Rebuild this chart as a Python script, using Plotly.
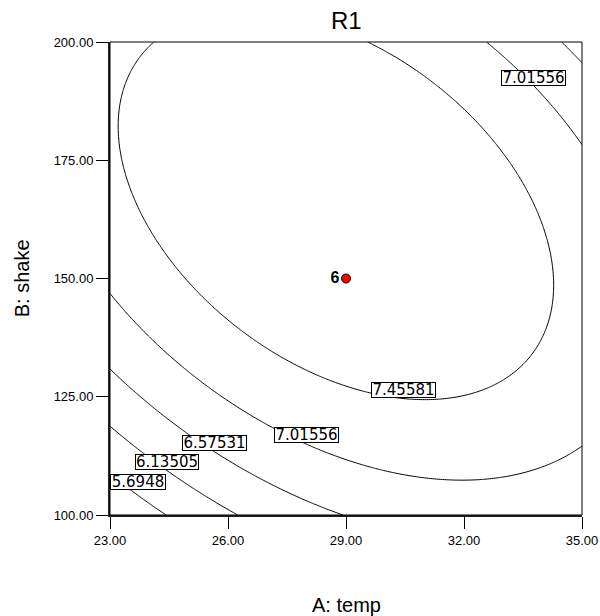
import numpy as np
import plotly.graph_objects as go

# Fitted quadratic model for R1 in coded units:
#   x = (temp - 29) / 6,  y = (shake - 150) / 50
coef_b0 = 7.827
coef_A = 0.123
coef_B = 0.459
coef_AB = -0.571
coef_A2 = -0.620
coef_B2 = -0.784

# Contour levels drawn on the plot
contour_levels = [5.6948, 6.13505, 6.57531, 7.01556, 7.45581]

# Boxed contour labels (text, position in temp/shake units, box width px)
label_text = ["7.01556", "7.45581", "7.01556", "6.57531", "6.13505", "5.6948"]
label_temp = [33.77, 30.47, 27.99, 25.66, 24.46, 23.70]
label_shake = [192.3, 126.5, 116.95, 115.3, 111.24, 106.94]
label_width = [65, 65, 65, 65, 64, 56]

# Design centre point and its replicate count
center_temp = [29.0]
center_shake = [150.0]
center_reps = ["6"]

temp_ticks = [23, 26, 29, 32, 35]
shake_ticks = [100, 125, 150, 175, 200]

# Evaluate the response surface on a fine grid
temp = np.linspace(23, 35, 241)
shake = np.linspace(100, 200, 201)
T, S = np.meshgrid(temp, shake)
xc = (T - 29.0) / 6.0
yc = (S - 150.0) / 50.0
R1 = (coef_b0 + coef_A * xc + coef_B * yc + coef_AB * xc * yc
      + coef_A2 * xc ** 2 + coef_B2 * yc ** 2)

step = contour_levels[1] - contour_levels[0]

fig = go.Figure()
fig.add_trace(go.Contour(
    x=temp, y=shake, z=R1,
    contours=dict(start=contour_levels[0], end=contour_levels[-1] + 1e-4,
                  size=step, coloring="none", showlabels=False),
    line=dict(color="black", width=1),
    showscale=False, hoverinfo="skip",
))

fig.add_trace(go.Scatter(
    x=center_temp, y=center_shake, mode="markers+text",
    text=["<b>" + t + "</b>" for t in center_reps],
    textposition="middle left",
    textfont=dict(family="Arial", size=16, color="black"),
    marker=dict(color="red", size=9, line=dict(color="black", width=1)),
    hoverinfo="skip", showlegend=False,
))

annotations = []
for txt, a, b, w in zip(label_text, label_temp, label_shake, label_width):
    annotations.append(dict(
        x=a, y=b, xref="x", yref="y", text=txt, showarrow=False,
        font=dict(family="DejaVu Sans", size=15, color="black"),
        bgcolor="white", bordercolor="black", borderwidth=1, borderpad=0,
        width=w - 2, height=14, xanchor="center", yanchor="middle",
    ))

annotations += [
    dict(text="R1", x=0.5, y=1.045, xref="paper", yref="paper",
         showarrow=False, xanchor="center", yanchor="middle",
         font=dict(family="Arial", size=24, color="black")),
    dict(text="A: temp", x=0.5, y=-0.19, xref="paper", yref="paper",
         showarrow=False, xanchor="center", yanchor="middle",
         font=dict(family="Arial", size=20, color="black")),
    dict(text="B: shake", x=-0.187, y=0.5, xref="paper", yref="paper",
         showarrow=False, xanchor="center", yanchor="middle", textangle=-90,
         font=dict(family="Arial", size=20, color="black")),
]

axis_common = dict(
    showgrid=False, zeroline=False, ticks="outside", ticklen=12,
    tickwidth=1, tickcolor="black", showline=True, linewidth=2,
    linecolor="#222", tickformat=".2f", automargin=False,
    tickfont=dict(family="Arial", size=13, color="black"),
)

fig.update_layout(
    width=600, height=616,
    margin=dict(l=110, r=18, t=42, b=101),
    paper_bgcolor="white", plot_bgcolor="white",
    showlegend=False,
    xaxis=dict(range=[23, 35], tickvals=temp_ticks, **axis_common),
    yaxis=dict(range=[100, 200], tickvals=shake_ticks, **axis_common),
    annotations=annotations,
    shapes=[dict(type="rect", xref="paper", yref="paper", x0=0, y0=0,
                 x1=1, y1=1, line=dict(color="black", width=1))],
)

fig.write_html("out.html")
